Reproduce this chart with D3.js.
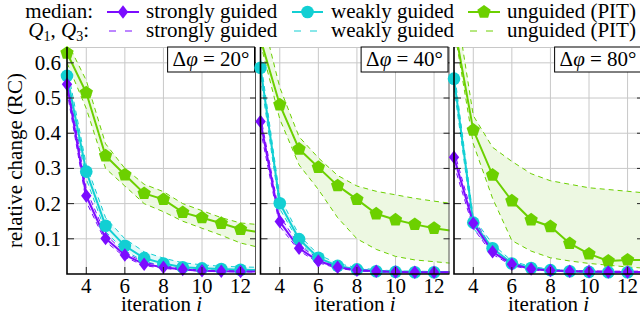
<!DOCTYPE html>
<html>
<head>
<meta charset="utf-8">
<script src="https://cdn.jsdelivr.net/npm/d3@7"></script>
<style>
  body { margin: 0; background: #fff; }
  svg { display: block; }
  svg text { font-family: "Liberation Serif", "Times New Roman", "DejaVu Serif", serif; }
</style>
</head>
<body>
<svg id="chart" width="640" height="320" font-family="Liberation Serif, serif"></svg>
<script>
// iterations shown on the x axis (13 lies just past the right edge, clipped)
const iterations = [3, 4, 5, 6, 7, 8, 9, 10, 11, 12, 13]
const angles = ['20', '40', '80']
const xTicks = [4, 6, 8, 10, 12]
const yTicks = [0.1, 0.2, 0.3, 0.4, 0.5, 0.6]

// Δφ = 20°
const strongQ1_20 = [0.520, 0.205, 0.092, 0.048, 0.024, 0.016, 0.011, 0.008, 0.007, 0.006, 0.006]
const strongMed_20 = [0.539, 0.222, 0.101, 0.054, 0.028, 0.019, 0.013, 0.009, 0.008, 0.007, 0.007]
const strongQ3_20 = [0.560, 0.240, 0.112, 0.061, 0.033, 0.023, 0.016, 0.012, 0.010, 0.009, 0.009]
const weakQ1_20 = [0.540, 0.270, 0.120, 0.066, 0.036, 0.023, 0.014, 0.011, 0.010, 0.009, 0.008]
const weakMed_20 = [0.563, 0.291, 0.137, 0.080, 0.045, 0.030, 0.019, 0.016, 0.014, 0.012, 0.011]
const weakQ3_20 = [0.590, 0.310, 0.160, 0.100, 0.063, 0.045, 0.032, 0.026, 0.022, 0.020, 0.019]
const unguidedQ1_20 = [0.600, 0.470, 0.300, 0.250, 0.200, 0.177, 0.150, 0.130, 0.110, 0.088, 0.075]
const unguidedMed_20 = [0.628, 0.515, 0.336, 0.282, 0.229, 0.212, 0.175, 0.160, 0.144, 0.127, 0.118]
const unguidedQ3_20 = [0.660, 0.550, 0.370, 0.300, 0.255, 0.234, 0.200, 0.180, 0.160, 0.145, 0.140]

// Δφ = 40°
const strongQ1_40 = [0.410, 0.135, 0.066, 0.032, 0.016, 0.009, 0.006, 0.005, 0.004, 0.004, 0.004]
const strongMed_40 = [0.433, 0.149, 0.073, 0.037, 0.019, 0.011, 0.008, 0.006, 0.005, 0.005, 0.005]
const strongQ3_40 = [0.450, 0.165, 0.081, 0.043, 0.023, 0.014, 0.010, 0.008, 0.007, 0.007, 0.007]
const weakQ1_40 = [0.560, 0.185, 0.090, 0.040, 0.019, 0.010, 0.006, 0.004, 0.004, 0.004, 0.004]
const weakMed_40 = [0.586, 0.201, 0.099, 0.046, 0.023, 0.013, 0.008, 0.006, 0.005, 0.005, 0.005]
const weakQ3_40 = [0.610, 0.220, 0.110, 0.055, 0.030, 0.018, 0.012, 0.009, 0.008, 0.007, 0.007]
const unguidedQ1_40 = [0.655, 0.440, 0.310, 0.240, 0.160, 0.100, 0.070, 0.050, 0.040, 0.035, 0.030]
const unguidedMed_40 = [0.667, 0.481, 0.355, 0.303, 0.251, 0.212, 0.171, 0.154, 0.141, 0.130, 0.122]
const unguidedQ3_40 = [0.750, 0.530, 0.390, 0.330, 0.280, 0.250, 0.235, 0.225, 0.215, 0.207, 0.200]

// Δφ = 80°
const strongQ1_80 = [0.310, 0.130, 0.056, 0.024, 0.012, 0.008, 0.006, 0.005, 0.005, 0.005, 0.005]
const strongMed_80 = [0.332, 0.144, 0.063, 0.028, 0.014, 0.010, 0.008, 0.007, 0.006, 0.006, 0.006]
const strongQ3_80 = [0.350, 0.158, 0.071, 0.033, 0.017, 0.012, 0.010, 0.009, 0.008, 0.008, 0.008]
const weakQ1_80 = [0.530, 0.130, 0.065, 0.026, 0.014, 0.009, 0.006, 0.005, 0.004, 0.004, 0.004]
const weakMed_80 = [0.555, 0.146, 0.073, 0.030, 0.017, 0.011, 0.008, 0.006, 0.005, 0.005, 0.005]
const weakQ3_80 = [0.580, 0.160, 0.085, 0.037, 0.021, 0.014, 0.010, 0.008, 0.007, 0.007, 0.007]
const unguidedQ1_80 = [0.700, 0.370, 0.215, 0.095, 0.065, 0.046, 0.037, 0.030, 0.025, 0.020, 0.016]
const unguidedMed_80 = [0.710, 0.409, 0.281, 0.208, 0.154, 0.135, 0.087, 0.057, 0.037, 0.040, 0.040]
const unguidedQ3_80 = [0.800, 0.450, 0.360, 0.320, 0.285, 0.265, 0.255, 0.245, 0.240, 0.235, 0.230]

const colors = { strong: '#7b0cff', weak: '#12cfd3', unguided: '#6cd000' }
const fills = { strong: '#efe4ff', weak: '#dcf8f8', unguided: '#edf8e2' }
const labels = { strong: 'strongly guided', weak: 'weakly guided', unguided: 'unguided (PIT)' }

const panels = [
  { angle: angles[0], strong: [strongQ1_20, strongMed_20, strongQ3_20], weak: [weakQ1_20, weakMed_20, weakQ3_20], unguided: [unguidedQ1_20, unguidedMed_20, unguidedQ3_20] },
  { angle: angles[1], strong: [strongQ1_40, strongMed_40, strongQ3_40], weak: [weakQ1_40, weakMed_40, weakQ3_40], unguided: [unguidedQ1_40, unguidedMed_40, unguidedQ3_40] },
  { angle: angles[2], strong: [strongQ1_80, strongMed_80, strongQ3_80], weak: [weakQ1_80, weakMed_80, weakQ3_80], unguided: [unguidedQ1_80, unguidedMed_80, unguidedQ3_80] }
]

const svg = d3.select('#chart')
const plotTop = 47
const plotBottom = 274
const panelLefts = [67, 260.5, 454]
const panelWidth = 189
const fontSize = 21
const serif = '"Liberation Serif", "Times New Roman", serif'

const yScale = d3.scaleLinear().domain([0, 0.645]).range([plotBottom, plotTop])

// marker shapes, centered at 0,0
function marker(kind, r) {
  if (kind === 'strong') return `M0,${-r * 1.3}L${r},0L0,${r * 1.3}L${-r},0Z`
  if (kind === 'weak') return d3.symbol(d3.symbolCircle, Math.PI * r * r)()
  const pts = d3.range(5).map(k => {
    const a = -Math.PI / 2 + k * 2 * Math.PI / 5
    return [r * Math.cos(a), r * Math.sin(a)]
  })
  return 'M' + pts.map(p => p.join(',')).join('L') + 'Z'
}
const markerSize = { strong: 5.2, weak: 6.3, unguided: 7 }

panels.forEach((panel, pi) => {
  const left = panelLefts[pi]
  const right = left + panelWidth
  const xScale = d3.scaleLinear().domain([3, 12.8]).range([left, right])

  const g = svg.append('g')
  const clipId = 'clip' + pi
  svg.append('clipPath').attr('id', clipId)
    .append('rect').attr('x', left).attr('y', plotTop).attr('width', panelWidth).attr('height', plotBottom - plotTop)

  // grid
  g.selectAll('.vgrid').data(xTicks).join('line')
    .attr('x1', d => xScale(d)).attr('x2', d => xScale(d))
    .attr('y1', plotTop).attr('y2', plotBottom)
    .attr('stroke', '#c8c8c8').attr('stroke-width', 1)
  g.selectAll('.hgrid').data(yTicks).join('line')
    .attr('x1', left).attr('x2', right)
    .attr('y1', d => yScale(d)).attr('y2', d => yScale(d))
    .attr('stroke', '#c8c8c8').attr('stroke-width', 1)
  g.append('line').attr('x1', left).attr('x2', right).attr('y1', plotTop + 0.5).attr('y2', plotTop + 0.5)
    .attr('stroke', '#c8c8c8')

  const plot = g.append('g').attr('clip-path', `url(#${clipId})`)
  const order = ['unguided', 'weak', 'strong']

  const area = d3.area()
    .x((d, i) => xScale(iterations[i]))
    .y0(d => yScale(d[0]))
    .y1(d => yScale(d[1]))
  const line = d3.line()
    .x((d, i) => xScale(iterations[i]))
    .y(d => yScale(d))

  order.forEach(key => {
    const [q1, , q3] = panel[key]
    plot.append('path')
      .datum(q1.map((v, i) => [v, q3[i]]))
      .attr('d', area)
      .attr('fill', fills[key])
      .attr('fill-opacity', key === 'unguided' ? 1 : 0.8)
  })
  order.forEach(key => {
    const [q1, , q3] = panel[key]
    ;[q1, q3].forEach(q => {
      plot.append('path').datum(q).attr('d', line)
        .attr('fill', 'none').attr('stroke', colors[key])
        .attr('stroke-width', 1).attr('stroke-dasharray', '5,4')
    })
  })
  order.forEach(key => {
    const med = panel[key][1]
    plot.append('path').datum(med).attr('d', line)
      .attr('fill', 'none').attr('stroke', colors[key]).attr('stroke-width', 2)
    const pts = med.map((v, i) => [iterations[i], v])
      .filter(([x, v]) => x <= 12.8 && v <= 0.645)
    g.selectAll(null).data(pts).join('path')
      .attr('transform', d => `translate(${xScale(d[0])},${yScale(d[1])})`)
      .attr('d', marker(key, markerSize[key]))
      .attr('fill', colors[key])
  })

  // frame and ticks
  g.append('line').attr('x1', right - 0.5).attr('x2', right - 0.5).attr('y1', plotTop).attr('y2', plotBottom)
    .attr('stroke', '#555').attr('stroke-width', 1)
  g.selectAll('.xtick').data(xTicks).join('line')
    .attr('x1', d => xScale(d)).attr('x2', d => xScale(d))
    .attr('y1', plotBottom).attr('y2', plotBottom - 7)
    .attr('stroke', '#222').attr('stroke-width', 1)
  g.selectAll('.ytickl').data(yTicks).join('line')
    .attr('x1', left).attr('x2', left + 7)
    .attr('y1', d => yScale(d)).attr('y2', d => yScale(d))
    .attr('stroke', '#222').attr('stroke-width', 1)
  g.selectAll('.ytickr').data(yTicks).join('line')
    .attr('x1', right - 6).attr('x2', right)
    .attr('y1', d => yScale(d)).attr('y2', d => yScale(d))
    .attr('stroke', '#222').attr('stroke-width', 1)
  g.append('path')
    .attr('d', `M${left},${plotTop}V${plotBottom}H${right}`)
    .attr('fill', 'none').attr('stroke', '#000').attr('stroke-width', 1.6)

  // x tick labels
  g.selectAll('.xlab').data(xTicks).join('text')
    .attr('x', d => xScale(d)).attr('y', 293)
    .attr('text-anchor', 'middle').attr('font-size', fontSize).attr('font-family', serif)
    .text(d => d)
  const xl = g.append('text')
    .attr('x', (left + right) / 2).attr('y', 311)
    .attr('text-anchor', 'middle').attr('font-size', fontSize).attr('font-family', serif)
  xl.append('tspan').text('iteration ')
  xl.append('tspan').attr('font-style', 'italic').text('i')

  // angle label box
  const lab = g.append('g')
  const t = lab.append('text').attr('font-size', fontSize).attr('font-family', serif).attr('y', 66)
  t.append('tspan').text('Δ')
  t.append('tspan').attr('font-style', 'italic').text('φ')
  t.append('tspan').text(` = ${panel.angle}°`)
  const bw = t.node().getComputedTextLength()
  const boxRight = right - 1.5
  const boxW = bw + 10
  t.attr('x', boxRight - boxW + 5)
  lab.insert('rect', 'text')
    .attr('x', boxRight - boxW).attr('y', plotTop)
    .attr('width', boxW).attr('height', 25)
    .attr('fill', '#fff').attr('stroke', '#000').attr('stroke-width', 1)
})

// y tick labels (left panel only)
svg.selectAll('.ylab').data(yTicks).join('text')
  .attr('x', 61).attr('y', d => yScale(d) + 7)
  .attr('text-anchor', 'end').attr('font-size', fontSize).attr('font-family', serif)
  .text(d => d3.format('.1f')(d))

svg.append('text')
  .attr('transform', `translate(22, ${(plotTop + plotBottom) / 2}) rotate(-90)`)
  .attr('text-anchor', 'middle').attr('font-size', fontSize).attr('font-family', serif)
  .text('relative change (RC)')

// legend
const legend = svg.append('g').attr('font-family', serif)
const rows = [18, 37]
legend.append('text').attr('x', 93).attr('y', rows[0])
  .attr('text-anchor', 'end').attr('font-size', fontSize).text('median:')
const q = legend.append('text').attr('x', 89).attr('y', rows[1])
  .attr('text-anchor', 'end').attr('font-size', fontSize)
q.append('tspan').attr('font-style', 'italic').text('Q')
q.append('tspan').attr('font-size', 14).attr('dy', 4).text('1')
q.append('tspan').attr('dy', -4).text(', ')
q.append('tspan').attr('font-style', 'italic').text('Q')
q.append('tspan').attr('font-size', 14).attr('dy', 4).text('3')
q.append('tspan').attr('dy', -4).text(':')

const legendItems = [
  { key: 'strong', x0: 107, x1: 139, text: 146 },
  { key: 'weak', x0: 292, x1: 323, text: 331 },
  { key: 'unguided', x0: 468, x1: 500, text: 507 }
]
legendItems.forEach(item => {
  const c = colors[item.key]
  const mid = (item.x0 + item.x1) / 2
  legend.append('line').attr('x1', item.x0).attr('x2', item.x1)
    .attr('y1', rows[0] - 6).attr('y2', rows[0] - 6)
    .attr('stroke', c).attr('stroke-width', 2)
  legend.append('path')
    .attr('transform', `translate(${mid},${rows[0] - 6})`)
    .attr('d', marker(item.key, markerSize[item.key]))
    .attr('fill', c)
  legend.append('line').attr('x1', item.x0 + 2).attr('x2', item.x1)
    .attr('y1', rows[1] - 6).attr('y2', rows[1] - 6)
    .attr('stroke', c).attr('stroke-width', 1).attr('stroke-dasharray', '7,9')
  rows.forEach(y => {
    legend.append('text').attr('x', item.text).attr('y', y)
      .attr('font-size', fontSize).text(labels[item.key])
  })
})
</script>
</body>
</html>
